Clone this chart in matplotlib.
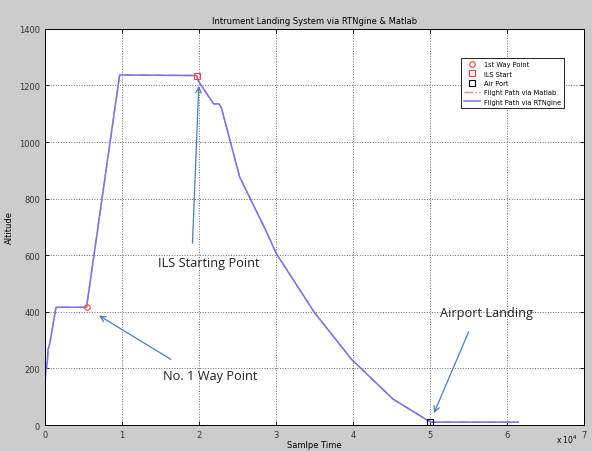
import matplotlib
matplotlib.use('Agg')
import matplotlib.pyplot as plt
import numpy as np

# flight path (sample time, altitude)
path_t = [0, 100, 200, 330, 400, 500, 650, 1430, 5400, 9700, 19700, 19900,
          21900, 22600, 22900, 25300, 28600, 30100, 35000, 39800, 45200,
          49800, 50200, 61500]
path_alt = [127, 198, 200, 233, 269, 275, 292, 416, 416, 1237, 1235, 1217,
            1135, 1135, 1123, 876, 693, 604, 398, 233, 92, 15, 10, 10]

waypoint = (5400, 416)
ils_start = (19700, 1235)
airport = (50000, 10)

xticks = [0, 10000, 20000, 30000, 40000, 50000, 60000, 70000]
xtick_labels = ['0', '1', '2', '3', '4', '5', '6', '7']
yticks = [0, 200, 400, 600, 800, 1000, 1200, 1400]

small = 6
fig = plt.figure(figsize=(5.92, 4.52), dpi=100, facecolor='#cccccc')
ax = fig.add_axes([0.076, 0.0575, 0.91, 0.8765])
ax.set_facecolor('white')

ax.plot(waypoint[0], waypoint[1], 'o', mfc='none', mec='#ff4040', ms=4, mew=0.8,
        label='1st Way Point', zorder=4)
ax.plot(ils_start[0], ils_start[1], 's', mfc='none', mec='#ff4040', ms=4, mew=0.8,
        label='ILS Start', zorder=4)
ax.plot(airport[0], airport[1], 's', mfc='none', mec='black', ms=4, mew=0.8,
        label='Air Port', zorder=4)
ax.plot(path_t, path_alt, '-.', color='#ff8080', lw=1, label='Flight Path via Matlab')
ax.plot(path_t, path_alt, '-', color='#7474ea', lw=1.1, label='Flight Path via RTNgine')

ax.set_xlim(0, 70000)
ax.set_ylim(0, 1400)
ax.set_xticks(xticks)
ax.set_xticklabels(xtick_labels)
ax.set_yticks(yticks)
ax.tick_params(direction='in', labelsize=small, length=3, width=0.6, top=True, right=True,
               labelcolor='#333333')
ax.grid(True, linestyle=':', color='#666666', lw=0.7)
for s in ax.spines.values():
    s.set_linewidth(0.7)

ax.set_title('Intrument Landing System via RTNgine & Matlab', fontsize=small, pad=4)
ax.set_xlabel('Samlpe Time', fontsize=small, labelpad=0.5)
ax.set_ylabel('Altitude', fontsize=small, labelpad=4)
ax.text(0.989, -0.036, r'x 10$^4$', transform=ax.transAxes, ha='right', va='center',
        fontsize=5.5)

leg = ax.legend(loc='upper right', bbox_to_anchor=(0.97, 0.934), fontsize=4.8,
                frameon=True, fancybox=False, edgecolor='black', framealpha=1,
                handlelength=2.4, handletextpad=0.6, borderpad=0.45, labelspacing=0.5)
leg.get_frame().set_linewidth(0.6)

acol = '#4a7ebb'
afont = dict(fontsize=9.2, family=['Open Sans', 'DejaVu Sans'], color='#222222')
ax.annotate('', xy=(20000, 1208), xytext=(19150, 633),
            arrowprops=dict(arrowstyle='->', color=acol, lw=0.9))
ax.text(21250, 575, 'ILS Starting Point', ha='center', va='center', **afont)
ax.annotate('', xy=(6710, 392), xytext=(16660, 227),
            arrowprops=dict(arrowstyle='->', color=acol, lw=0.9))
ax.text(21500, 175, 'No. 1 Way Point', ha='center', va='center', **afont)
ax.annotate('', xy=(50400, 33), xytext=(55200, 339),
            arrowprops=dict(arrowstyle='->', color=acol, lw=0.9))
ax.text(57400, 398, 'Airport Landing', ha='center', va='center', **afont)

fig.savefig('out.png', dpi=100, facecolor=fig.get_facecolor())
